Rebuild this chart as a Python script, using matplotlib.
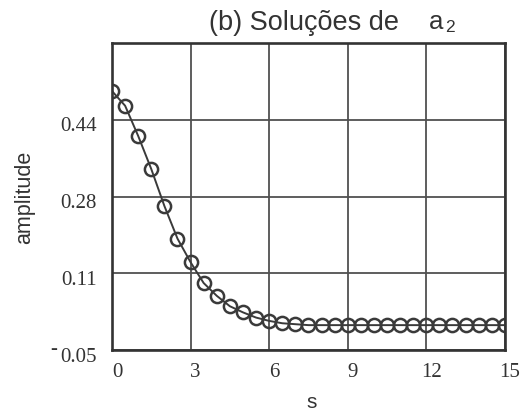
import matplotlib.pyplot as plt
from matplotlib.transforms import ScaledTranslation

s = [0, 0.5, 1, 1.5, 2, 2.5, 3, 3.5, 4, 4.5, 5, 5.5, 6, 6.5, 7, 7.5,
     8, 8.5, 9, 9.5, 10, 10.5, 11, 11.5, 12, 12.5, 13, 13.5, 14, 14.5, 15]
amplitude = [0.498, 0.467, 0.403, 0.333, 0.255, 0.186, 0.136, 0.092, 0.065,
             0.043, 0.030, 0.019, 0.012, 0.007, 0.005, 0.003, 0.003, 0.003,
             0.003, 0.003, 0.003, 0.003, 0.003, 0.003, 0.003, 0.003, 0.003,
             0.003, 0.003, 0.003, 0.003]
xticks = [0, 3, 6, 9, 12, 15]
yticks = [-0.05, 0.1125, 0.275, 0.4375]
ytick_labels = ["0.05", "0.11", "0.28", "0.44"]

dark = "#3a3a3a"
txt = "#333333"

fig = plt.figure(figsize=(5.21, 4.12), dpi=100)
ax = fig.add_axes([0.215, 0.150, 0.754, 0.746])

ax.plot(s, amplitude, color=dark, linewidth=1.4, marker="o", markersize=9.5,
        markerfacecolor="none", markeredgecolor=dark, markeredgewidth=1.8)

ax.set_xlim(0, 15)
ax.set_ylim(-0.05, 0.6)
ax.set_xticks(xticks)
ax.set_yticks(yticks + [0.6])
ax.set_yticklabels(ytick_labels + [""])
ax.grid(True, color="#505050", linewidth=1.3)
ax.set_axisbelow(True)
ax.tick_params(length=0, labelsize=15)
ax.tick_params(axis="x", pad=9)
ax.tick_params(axis="y", pad=11)
xshift = ScaledTranslation(0.05, 0, fig.dpi_scale_trans)
yshift = ScaledTranslation(0, -0.045, fig.dpi_scale_trans)
for lab in ax.get_xticklabels():
    lab.set_transform(lab.get_transform() + xshift)
for lab in ax.get_yticklabels():
    lab.set_transform(lab.get_transform() + yshift)
for lab in ax.get_xticklabels() + ax.get_yticklabels():
    lab.set_family("Liberation Serif")
    lab.set_color(txt)
for sp in ax.spines.values():
    sp.set_linewidth(1.9)
    sp.set_color(txt)

# minus sign of the lowest tick sits high and apart, as in the original
fig.text(54 / 521, 1 - 349 / 412, "-", family="Liberation Serif", fontsize=15,
         color=txt, ha="center", va="center")

fig.text(312 / 521, 1 - 402 / 412, "s", family="Liberation Sans", fontsize=15,
         color=txt, ha="center", va="center")
fig.text(25 / 521, 1 - 197 / 412, "amplitude", family="Liberation Sans",
         fontsize=15.5, color=txt, ha="center", va="center", rotation=90)

fig.text(209 / 521, 1 - 30 / 412, "(b) Soluções de", family="Liberation Sans",
         fontsize=19.5, color=txt, ha="left", va="baseline")
fig.text(429 / 521, 1 - 29 / 412, "a", family="Liberation Sans",
         fontsize=18.5, color=txt, ha="left", va="baseline")
fig.text(445 / 521, 1 - 32 / 412, "2", family="Liberation Sans",
         fontsize=12.5, color=txt, ha="left", va="baseline")

fig.savefig("out.png", dpi=100)
